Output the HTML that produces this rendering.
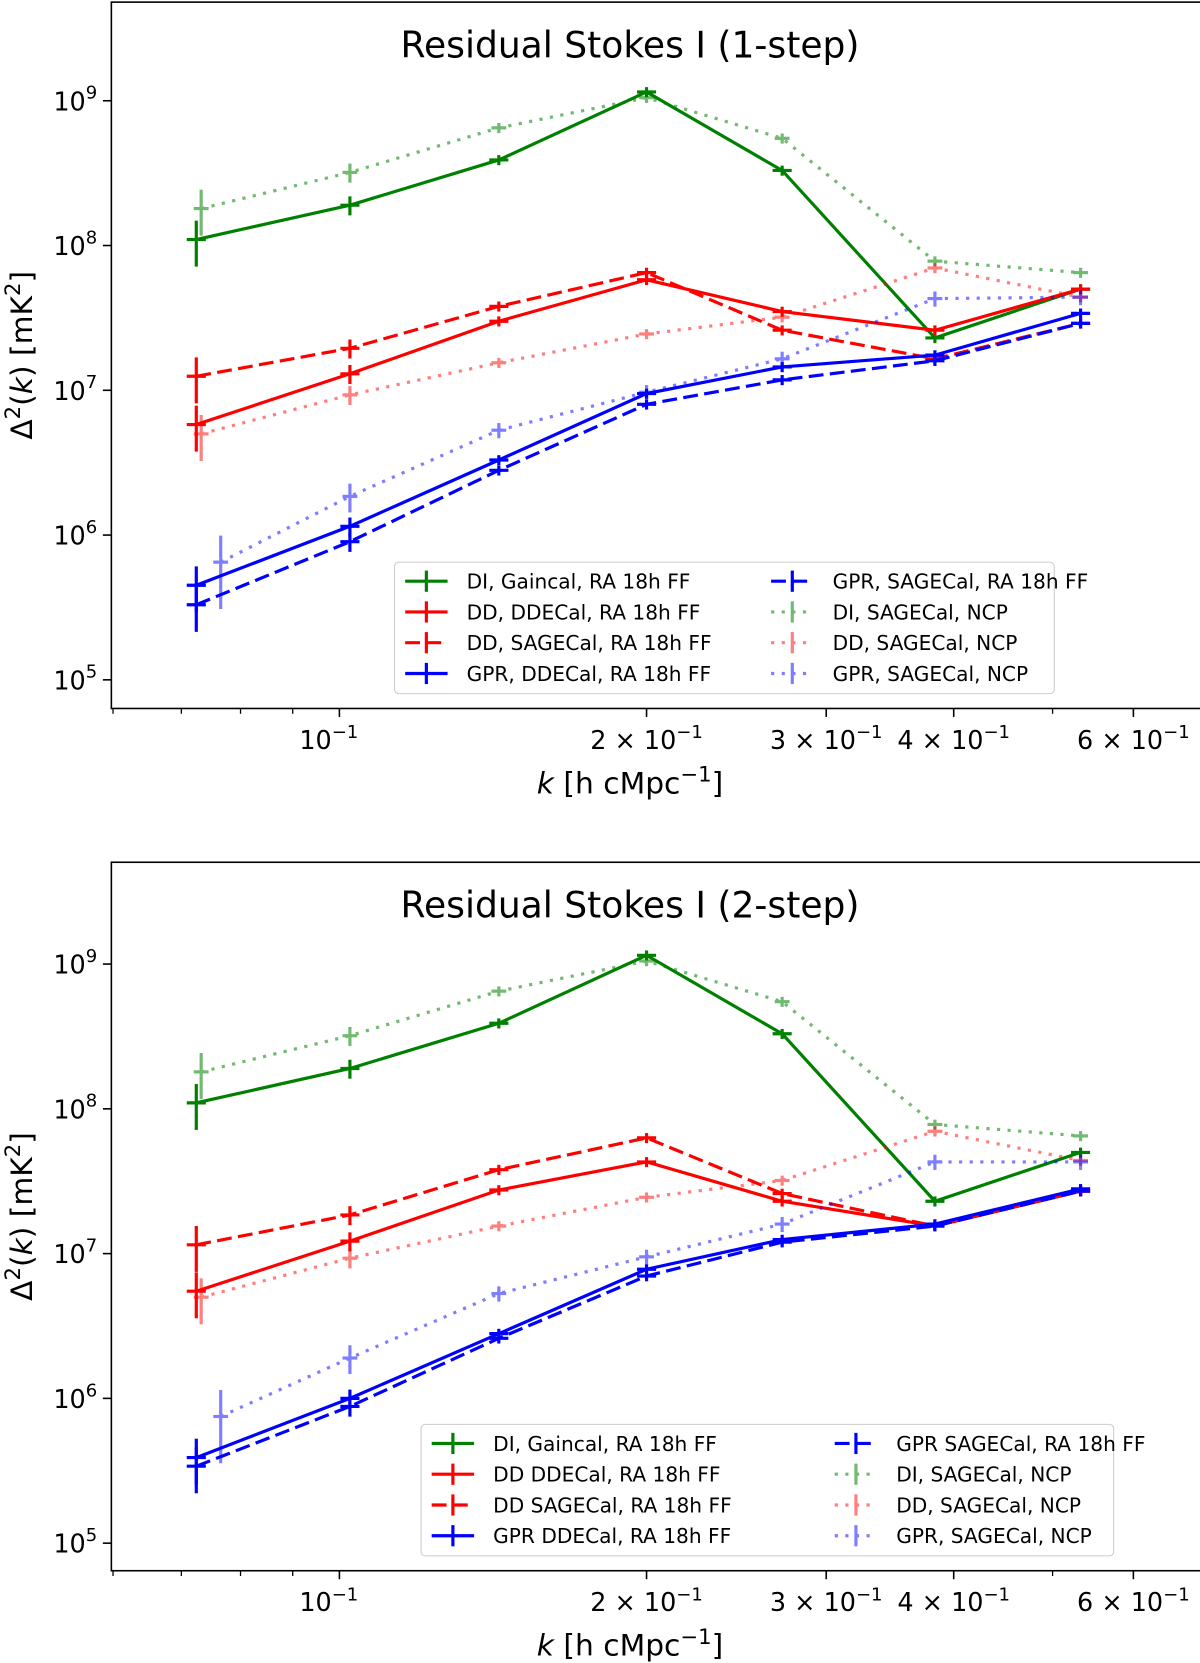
<!DOCTYPE html>
<html><head><meta charset="utf-8"><style>
html,body{margin:0;padding:0;background:#fff;}
svg{display:block;font-family:"DejaVu Sans","Liberation Sans",sans-serif;}
</style></head><body>
<svg id="chart" width="1200" height="1663" viewBox="0 0 1131.4 1568" preserveAspectRatio="none" xmlns="http://www.w3.org/2000/svg"></svg>
<script>
const kValues=[0.0724,0.1024,0.1433,0.2,0.2716,0.3834,0.5326];
const kNcpBlue=[0.0765,0.1024,0.1433,0.2,0.2716,0.3834,0.5326];
const kNcp=[0.0732,0.1024,0.1433,0.2,0.2716,0.3834,0.5326];
const top_diGain=[1.1e8,1.9e8,3.9e8,1.15e9,3.3e8,2.3e7,5e7];
const top_diNcp=[1.8e8,3.2e8,6.5e8,1.05e9,5.5e8,7.8e7,6.5e7];
const top_ddDde=[5.8e6,1.3e7,3e7,5.8e7,3.5e7,2.6e7,5e7];
const top_ddSage=[1.25e7,1.95e7,3.8e7,6.5e7,2.6e7,1.65e7,2.9e7];
const top_ddNcp=[5e6,9.3e6,1.55e7,2.45e7,3.2e7,7e7,4.4e7];
const top_gprDde=[4.5e5,1.15e6,3.3e6,9.5e6,1.45e7,1.75e7,3.4e7];
const top_gprSage=[3.3e5,9e5,2.8e6,8e6,1.18e7,1.6e7,2.9e7];
const top_gprNcp=[6.5e5,1.85e6,5.3e6,9.7e6,1.65e7,4.3e7,4.4e7];
const bot_diGain=[1.1e8,1.9e8,3.9e8,1.15e9,3.3e8,2.3e7,5e7];
const bot_diNcp=[1.8e8,3.2e8,6.5e8,1.05e9,5.5e8,7.8e7,6.5e7];
const bot_ddDde=[5.5e6,1.22e7,2.75e7,4.3e7,2.3e7,1.55e7,2.7e7];
const bot_ddSage=[1.15e7,1.85e7,3.8e7,6.3e7,2.6e7,1.55e7,2.7e7];
const bot_ddNcp=[5e6,9.3e6,1.55e7,2.45e7,3.2e7,7e7,4.4e7];
const bot_gprDde=[3.9e5,1e6,2.8e6,7.8e6,1.25e7,1.6e7,2.8e7];
const bot_gprSage=[3.4e5,8.8e5,2.6e6,7e6,1.2e7,1.55e7,2.7e7];
const bot_gprNcp=[7.5e5,1.9e6,5.3e6,9.5e6,1.6e7,4.3e7,4.3e7];
const errFrac=[0.35,0.15,0.08,0.08,0.08,0.08,0.08];
const xTickVals=[0.1,0.2,0.3,0.4,0.6];
const xTickLabels=["10","2 × 10","3 × 10","4 × 10","6 × 10"];
const yTickExp=[5,6,7,8,9];

const NS="http://www.w3.org/2000/svg";
const svg=document.getElementById('chart');
function el(tag,attrs,parent,text){const e=document.createElementNS(NS,tag);for(const k in attrs)e.setAttribute(k,attrs[k]);if(text!==undefined)e.textContent=text;(parent||svg).appendChild(e);return e;}
const X0=105,X1=1133;
function xs(k){return 320+(Math.log10(k)+1)*962;}

function panel(id,top,bottom,y9,title,series,legend){
  const g=el('g',{});
  
  
  const dec=136.5;
  const ys=v=>y9+(9-Math.log10(v))*dec;
  const clip='clip-'+id;
  const cp=el('clipPath',{id:clip},g);el('rect',{x:X0,y:top,width:X1-X0,height:bottom-top},cp);
  xTickVals.forEach((v,i)=>{const x=xs(v);el('line',{x1:x,x2:x,y1:bottom,y2:bottom+8,stroke:'#000','stroke-width':1.5},g);
    const t=el('text',{x:x+(i==0?-10:0),y:bottom+38,'text-anchor':'middle','font-size':24},g);
    
    t.textContent=xTickLabels[i];el('tspan',{dy:-10,'font-size':17},t,'−1');});
  [0.06,0.07,0.08,0.09,0.5].forEach(v=>{const x=xs(v);el('line',{x1:x,x2:x,y1:bottom,y2:bottom+5,stroke:'#000','stroke-width':1.2},g);});
  yTickExp.forEach(e=>{const y=ys(Math.pow(10,e));el('line',{x1:X0-8,x2:X0,y1:y,y2:y,stroke:'#000','stroke-width':1.5},g);
    const t=el('text',{x:X0-34,y:y+9,'text-anchor':'middle','font-size':24},g,'10');
    
    el('tspan',{dy:-11,'font-size':17},t,String(e));});
  series.forEach(s=>{
    const sg=el('g',{'clip-path':'url(#'+clip+')',opacity:s.op||1},g);
    
    const pts=s.v.map((v,i)=>[xs(s.k[i]),ys(v)]);
    el('polyline',{points:pts.map(p=>p.join(',')).join(' '),fill:'none',stroke:s.c,'stroke-width':s.w||3,'stroke-dasharray':s.d||''},sg);
    s.v.forEach((v,i)=>{const x=pts[i][0];const f=errFrac[i]*(s.ef||1);
      el('line',{x1:x,x2:x,y1:ys(v*(1+f)),y2:ys(Math.max(v*(1-f),1)),stroke:s.c,'stroke-width':s.w||3},sg);
      el('line',{x1:x-(s.hw||9),x2:x+(s.hw||9),y1:pts[i][1],y2:pts[i][1],stroke:s.c,'stroke-width':s.w||3},sg);});
  });
  el('rect',{x:X0,y:top,width:X1-X0,height:bottom-top,fill:'none',stroke:'#000','stroke-width':1.5},g);
  const tt=el('text',{x:594,y:top+52,'text-anchor':'middle','font-size':34},g,title);
  
  const xl=el('text',{x:594,y:bottom+80,'text-anchor':'middle','font-size':28},g);
  
  el('tspan',{'font-style':'italic'},xl,'k');el('tspan',{},xl,' [h cMpc');el('tspan',{dy:-11,'font-size':20},xl,'−1');el('tspan',{dy:11},xl,']');
  const yc=(top+bottom)/2;
  const yl=el('text',{x:0,y:0,'text-anchor':'middle','font-size':28,transform:`translate(30,${yc}) rotate(-90)`},g);
  
  el('tspan',{},yl,'Δ');el('tspan',{dy:-11,'font-size':20},yl,'2');el('tspan',{dy:11},yl,'(');el('tspan',{'font-style':'italic'},yl,'k');el('tspan',{},yl,') [mK');el('tspan',{dy:-11,'font-size':20},yl,'2');el('tspan',{dy:11},yl,']');
  const lg=el('g',{},g);
  el('rect',{x:legend.x,y:legend.y,width:legend.w,height:124,rx:4,fill:'#fff','fill-opacity':0.8,stroke:'#ccc'},lg);
  legend.items.forEach((it,i)=>{const col=i<4?0:1,row=i%4;const lx=legend.x+10+col*legend.cw,ly=legend.y+18+row*29;
    const s=series[it.s];const eg=el('g',{opacity:s.op||1},lg);
    
    el('line',{x1:lx,x2:lx+40,y1:ly,y2:ly,stroke:s.c,'stroke-width':s.w||3,'stroke-dasharray':s.d||''},eg);
    el('line',{x1:lx+20,x2:lx+20,y1:ly-10,y2:ly+10,stroke:s.c,'stroke-width':s.w||3},eg);
    el('text',{x:lx+58,y:ly+7,'font-size':19,fill:'#000'},lg,it.t);});
}
function mk(p){return [
 {name:'di-gaincal-line',k:kValues,v:p.diGain,c:'#008000'},
 {name:'dd-ddecal-line',k:kValues,v:p.ddDde,c:'#ff0000'},
 {name:'dd-sagecal-line',k:kValues,v:p.ddSage,c:'#ff0000',d:'14,6'},
 {name:'gpr-ddecal-line',k:kValues,v:p.gprDde,c:'#0000ff'},
 {name:'gpr-sagecal-line',k:kValues,v:p.gprSage,c:'#0000ff',d:'14,6'},
 {name:'di-ncp-line',k:kNcp,v:p.diNcp,c:'#008000',d:'3,7',op:0.55,w:3,hw:7},
 {name:'dd-ncp-line',k:kNcp,v:p.ddNcp,c:'#ff0000',d:'3,7',op:0.5,w:3,hw:7},
 {name:'gpr-ncp-line',k:kNcpBlue,v:p.gprNcp,c:'#0000ff',d:'3,7',op:0.5,w:3,hw:7,ef:1.5}];}
panel('top-panel',2,668,95,'Residual Stokes I (1-step)',mk({diGain:top_diGain,diNcp:top_diNcp,ddDde:top_ddDde,ddSage:top_ddSage,ddNcp:top_ddNcp,gprDde:top_gprDde,gprSage:top_gprSage,gprNcp:top_gprNcp}),
 {x:372,y:530,w:622,cw:345,items:[{s:0,t:'DI, Gaincal, RA 18h FF'},{s:1,t:'DD, DDECal, RA 18h  FF'},{s:2,t:'DD, SAGECal, RA 18h  FF'},{s:3,t:'GPR, DDECal, RA 18h  FF'},{s:4,t:'GPR, SAGECal, RA 18h  FF'},{s:5,t:'DI, SAGECal, NCP'},{s:6,t:'DD, SAGECal, NCP'},{s:7,t:'GPR, SAGECal, NCP'}]});
panel('bottom-panel',813,1481,909,'Residual Stokes I (2-step)',mk({diGain:bot_diGain,diNcp:bot_diNcp,ddDde:bot_ddDde,ddSage:bot_ddSage,ddNcp:bot_ddNcp,gprDde:bot_gprDde,gprSage:bot_gprSage,gprNcp:bot_gprNcp}),
 {x:397,y:1343,w:653,cw:380,items:[{s:0,t:'DI, Gaincal, RA 18h FF'},{s:1,t:'DD DDECal, RA 18h FF'},{s:2,t:'DD SAGECal, RA 18h FF'},{s:3,t:'GPR DDECal, RA 18h FF'},{s:4,t:'GPR SAGECal, RA 18h FF'},{s:5,t:'DI, SAGECal, NCP'},{s:6,t:'DD, SAGECal, NCP'},{s:7,t:'GPR, SAGECal, NCP'}]});
</script>
</body></html>
